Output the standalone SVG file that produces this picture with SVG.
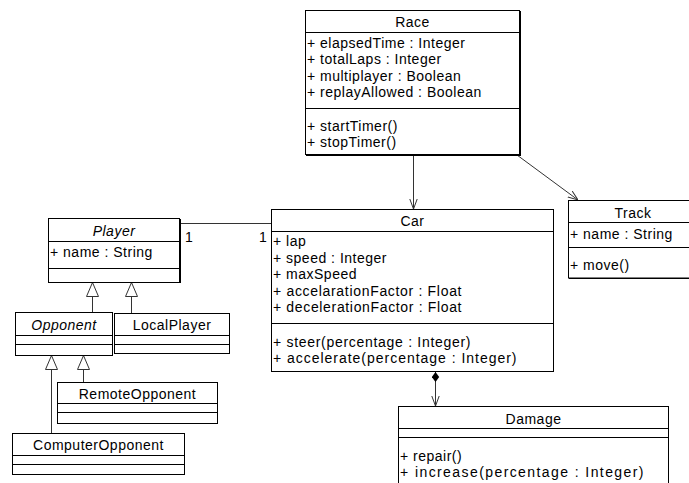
<svg xmlns="http://www.w3.org/2000/svg" width="689" height="483" viewBox="0 0 689 483">
<style>
.bg{fill:#fff}
.box{fill:#fff;stroke:#000;stroke-width:1}
.sh{fill:#000}
.div{stroke:#000;stroke-width:1}
.t{font-family:"Liberation Sans",Arial,Helvetica,sans-serif;font-size:14px;fill:#000;letter-spacing:0.5px}
.c{text-anchor:middle}
.i{font-style:italic}
.e{stroke:#333;stroke-width:1;fill:none}
</style>
<defs>
<marker id="open" viewBox="0 0 10 10" refX="10" refY="5" markerWidth="10" markerHeight="10" markerUnits="userSpaceOnUse" orient="auto">
<path d="M0,1.3 L10,5 L0,8.7" fill="none" stroke="#333" stroke-width="1"/>
</marker>
<marker id="tri" viewBox="-1 -1 16 14" refX="14" refY="6" markerWidth="16" markerHeight="14" markerUnits="userSpaceOnUse" orient="auto">
<path d="M0,0 L14,6 L0,12 Z" fill="#fff" stroke="#333" stroke-width="1"/>
</marker>
<marker id="dia" viewBox="0 0 10 8" refX="0" refY="4" markerWidth="10" markerHeight="8" markerUnits="userSpaceOnUse" orient="auto">
<path d="M0,4 L5,0.3 L10,4 L5,7.7 Z" fill="#000"/>
</marker>
</defs>
<rect class="bg" x="0" y="0" width="689" height="483"/>

<g id="connectors">
<path class="e" d="M180 223.5 H271"/>
<path class="e" d="M92.5 312.5 V282.5" marker-end="url(#tri)"/>
<path class="e" d="M131.5 313.5 V282.5" marker-end="url(#tri)"/>
<path class="e" d="M51.5 433.5 V355.5" marker-end="url(#tri)"/>
<path class="e" d="M83.5 382.5 V355.5" marker-end="url(#tri)"/>
<path class="e" d="M413.5 155 V209" marker-end="url(#open)"/>
<path class="e" d="M517 155 L578 200" marker-end="url(#open)"/>
<path class="e" d="M435.5 372 V406" marker-start="url(#dia)" marker-end="url(#open)"/>
<text class="t" x="185" y="242">1</text>
<text class="t" x="259" y="242">1</text>
</g>

<g id="Race">
<rect class="sh" x="306" y="11" width="215" height="145"/>
<rect class="box" x="305.5" y="10.5" width="214" height="144"/>
<path class="div" d="M305.5 32.5 H519.5 M305.5 108.5 H519.5"/>
<text class="t c" x="412.5" y="27">Race</text>
<text class="t" x="307" y="47.5">+ elapsedTime : Integer</text>
<text class="t" x="307" y="64">+ totalLaps : Integer</text>
<text class="t" x="307" y="80.5">+ multiplayer : Boolean</text>
<text class="t" x="307" y="97">+ replayAllowed : Boolean</text>
<text class="t" x="307" y="130.5">+ startTimer()</text>
<text class="t" x="307" y="147">+ stopTimer()</text>
</g>

<g id="Track">
<rect class="sh" x="569" y="201" width="130" height="78"/>
<rect class="box" x="568.5" y="200.5" width="130" height="77.5"/>
<path class="div" d="M568.5 222.5 H698.5 M568.5 247.5 H698.5"/>
<text class="t c" x="633" y="218">Track</text>
<text class="t" x="570" y="239">+ name : String</text>
<text class="t" x="570" y="270">+ move()</text>
</g>

<g id="Car">
<rect class="sh" x="272" y="210" width="282" height="162"/>
<rect class="box" x="271.5" y="209.5" width="282" height="162"/>
<path class="div" d="M271.5 231.5 H553.5 M271.5 323.5 H553.5"/>
<text class="t c" x="412.5" y="226">Car</text>
<text class="t" x="273" y="246">+ lap</text>
<text class="t" x="273" y="262.5">+ speed : Integer</text>
<text class="t" x="273" y="279">+ maxSpeed</text>
<text class="t" x="273" y="295.5" textLength="189" lengthAdjust="spacing">+ accelarationFactor : Float</text>
<text class="t" x="273" y="312" textLength="189" lengthAdjust="spacing">+ decelerationFactor : Float</text>
<text class="t" x="273" y="346.5" textLength="198" lengthAdjust="spacing">+ steer(percentage : Integer)</text>
<text class="t" x="273" y="363" textLength="244" lengthAdjust="spacing">+ accelerate(percentage : Integer)</text>
</g>

<g id="Player">
<rect class="sh" x="49" y="219" width="132" height="64"/>
<rect class="box" x="48.5" y="218.5" width="131" height="64"/>
<path class="div" d="M48.5 241.5 H179.5 M48.5 268.5 H179.5"/>
<text class="t c i" x="114" y="236">Player</text>
<text class="t" x="50" y="257">+ name : String</text>
</g>

<g id="Opponent">
<rect class="sh" x="16" y="313" width="97" height="43"/>
<rect class="box" x="15.5" y="312.5" width="97" height="43"/>
<path class="div" d="M15.5 335.5 H112.5 M15.5 344.5 H112.5"/>
<text class="t c i" x="64" y="330">Opponent</text>
</g>

<g id="LocalPlayer">
<rect class="sh" x="115" y="314" width="115" height="40"/>
<rect class="box" x="114.5" y="313.5" width="115" height="40"/>
<path class="div" d="M114.5 335.5 H229.5 M114.5 344.5 H229.5"/>
<text class="t c" x="172" y="330">LocalPlayer</text>
</g>

<g id="RemoteOpponent">
<rect class="sh" x="58" y="383" width="160" height="41"/>
<rect class="box" x="57.5" y="382.5" width="160" height="41"/>
<path class="div" d="M57.5 403.5 H217.5 M57.5 412.5 H217.5"/>
<text class="t c" x="137.5" y="399">RemoteOpponent</text>
</g>

<g id="ComputerOpponent">
<rect class="sh" x="13" y="434" width="172" height="41"/>
<rect class="box" x="12.5" y="433.5" width="172" height="41"/>
<path class="div" d="M12.5 455.5 H184.5 M12.5 464.5 H184.5"/>
<text class="t c" x="98.5" y="450">ComputerOpponent</text>
</g>

<g id="Damage">
<rect class="sh" x="399" y="407" width="270" height="90"/>
<rect class="box" x="398.5" y="406.5" width="270" height="90"/>
<path class="div" d="M398.5 428.5 H668.5 M398.5 437.5 H668.5"/>
<text class="t c" x="533.5" y="424">Damage</text>
<text class="t" x="400" y="461">+ repair()</text>
<text class="t" x="400" y="477" textLength="244" lengthAdjust="spacing">+ increase(percentage : Integer)</text>
</g>
</svg>
